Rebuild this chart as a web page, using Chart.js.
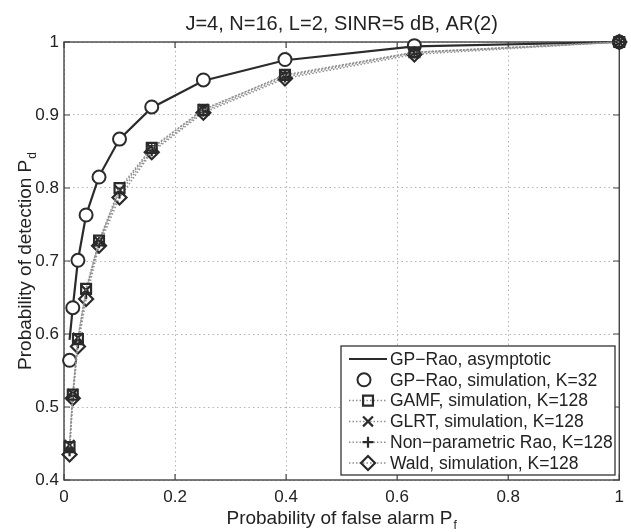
<!DOCTYPE html>
<html>
<head>
<meta charset="utf-8">
<style>
  html, body { margin: 0; padding: 0; background: #fff; }
</style>
<script src="https://cdn.jsdelivr.net/npm/chart.js@4.4.0/dist/chart.umd.min.js"></script>
</head>
<body>
<canvas id="roc" width="631" height="532"></canvas>
<script>
// probability of false alarm grid (log spaced)
const pf = [0.01, 0.0158, 0.0251, 0.0398, 0.0631, 0.1, 0.158, 0.251, 0.398, 0.631, 1];

const pdAsymptotic = [0.592, 0.636, 0.701, 0.763, 0.816, 0.867, 0.910, 0.947, 0.975, 0.994, 1.0];
const pdRaoSim     = [0.564, 0.636, 0.701, 0.763, 0.815, 0.867, 0.911, 0.948, 0.976, 0.995, 1.0];
const pdGamf       = [0.445, 0.517, 0.593, 0.662, 0.728, 0.800, 0.855, 0.907, 0.955, 0.986, 1.0];
const pdGlrt       = [0.448, 0.518, 0.595, 0.660, 0.727, 0.797, 0.854, 0.908, 0.954, 0.986, 1.0];
const pdNpRao      = [0.440, 0.515, 0.588, 0.655, 0.725, 0.793, 0.851, 0.905, 0.952, 0.985, 1.0];
const pdWald       = [0.435, 0.512, 0.583, 0.648, 0.721, 0.787, 0.849, 0.903, 0.950, 0.983, 1.0];

const seriesNames = [
	'GP\u2212Rao, asymptotic',
	'GP\u2212Rao, simulation, K=32',
	'GAMF, simulation, K=128',
	'GLRT, simulation, K=128',
	'Non\u2212parametric Rao, K=128',
	'Wald, simulation, K=128',
];

const xTickValues = [0, 0.2, 0.4, 0.6, 0.8, 1];
const xTickLabels = ['0', '0.2', '0.4', '0.6', '0.8', '1'];
const yTickValues = [0.4, 0.5, 0.6, 0.7, 0.8, 0.9, 1];
const yTickLabels = ['0.4', '0.5', '0.6', '0.7', '0.8', '0.9', '1'];

const titleText = 'J=4, N=16, L=2, SINR=5 dB, AR(2)';
const xTitle = ['Probability of false alarm P', 'f'];
const yTitle = ['Probability of detection P', 'd'];

const FONT = "'Liberation Sans', Arial, Helvetica, sans-serif";
const INK = '#222';

const pts = (ys) => pf.map((x, i) => ({ x: x, y: ys[i] }));

const dottedSeries = (label, ys, style, radius) => ({
	label: label,
	data: pts(ys),
	showLine: true,
	borderColor: '#8f8f8f',
	borderWidth: 1.5,
	borderDash: [1.5, 2],
	pointStyle: style,
	pointRadius: radius,
	pointHoverRadius: radius,
	pointBorderColor: '#2a2a2a',
	pointBackgroundColor: 'rgba(0,0,0,0)',
	pointBorderWidth: 2.2,
	clip: false,
	order: 1,
});

const datasets = [
	{
		label: seriesNames[0],
		data: pts(pdAsymptotic),
		showLine: true,
		borderColor: '#2b2b2b',
		borderWidth: 2.2,
		pointRadius: 0,
		clip: false,
		order: 3,
	},
	{
		label: seriesNames[1],
		data: pts(pdRaoSim),
		showLine: false,
		pointStyle: 'circle',
		pointRadius: 6.5,
		pointHoverRadius: 6.5,
		pointBorderColor: '#2b2b2b',
		pointBackgroundColor: '#fff',
		pointBorderWidth: 2,
		clip: false,
		order: 2,
	},
	dottedSeries(seriesNames[2], pdGamf, 'rect', 7),
	dottedSeries(seriesNames[3], pdGlrt, 'crossRot', 7),
	dottedSeries(seriesNames[4], pdNpRao, 'cross', 5.5),
	dottedSeries(seriesNames[5], pdWald, 'rectRot', 7),
];

// box around the axes with inward tick marks, like the original figure
const framePlugin = {
	id: 'frame',
	beforeDatasetsDraw(chart) {
		const { ctx, chartArea: a, scales } = chart;
		ctx.save();
		ctx.strokeStyle = '#444';
		ctx.lineWidth = 1.4;
		ctx.strokeRect(a.left, a.top, a.right - a.left, a.bottom - a.top);
		ctx.lineWidth = 1.2;
		ctx.beginPath();
		for (const v of xTickValues) {
			const px = scales.x.getPixelForValue(v);
			ctx.moveTo(px, a.bottom); ctx.lineTo(px, a.bottom - 6);
			ctx.moveTo(px, a.top); ctx.lineTo(px, a.top + 6);
		}
		for (const v of yTickValues) {
			const py = scales.y.getPixelForValue(v);
			ctx.moveTo(a.left, py); ctx.lineTo(a.left + 6, py);
			ctx.moveTo(a.right, py); ctx.lineTo(a.right - 6, py);
		}
		ctx.stroke();
		ctx.restore();
	},
};

const subText = (ctx, parts, cx, y, size, subSize) => {
	ctx.font = `${size}px ${FONT}`;
	const w1 = ctx.measureText(parts[0]).width;
	ctx.font = `${subSize}px ${FONT}`;
	const w2 = ctx.measureText(parts[1]).width;
	const x0 = cx - (w1 + w2 + 1) / 2;
	ctx.textAlign = 'left';
	ctx.textBaseline = 'alphabetic';
	ctx.font = `${size}px ${FONT}`;
	ctx.fillText(parts[0], x0, y);
	ctx.font = `${subSize}px ${FONT}`;
	ctx.fillText(parts[1], x0 + w1 + 1, y + 5);
};

const textPlugin = {
	id: 'texts',
	afterDraw(chart) {
		const { ctx, chartArea: a } = chart;
		const cx = (a.left + a.right) / 2;
		const cy = (a.top + a.bottom) / 2;
		ctx.save();
		ctx.fillStyle = INK;
		ctx.font = `20px ${FONT}`;
		ctx.textAlign = 'center';
		ctx.textBaseline = 'alphabetic';
		ctx.fillText(titleText, cx, 30);

		subText(ctx, xTitle, cx, 524, 19, 12);

		ctx.save();
		ctx.translate(30.5, cy);
		ctx.rotate(-Math.PI / 2);
		subText(ctx, yTitle, 0, 0, 19, 12);
		ctx.restore();

		// legend box in the lower right corner
		const box = { left: 341, top: 346, right: 615, bottom: 475 };
		ctx.fillStyle = '#fff';
		ctx.fillRect(box.left, box.top, box.right - box.left, box.bottom - box.top);
		ctx.strokeStyle = '#333';
		ctx.lineWidth = 1.3;
		ctx.strokeRect(box.left, box.top, box.right - box.left, box.bottom - box.top);

		chart.data.datasets.forEach((ds, i) => {
			const y = 359 + i * 20.8;
			if (ds.showLine) {
				ctx.save();
				ctx.strokeStyle = ds.borderColor;
				ctx.lineWidth = ds.borderWidth;
				ctx.setLineDash(ds.borderDash || []);
				ctx.beginPath();
				ctx.moveTo(349, y);
				ctx.lineTo(387, y);
				ctx.stroke();
				ctx.restore();
			}
			if (ds.pointRadius > 0) {
				ctx.save();
				ctx.strokeStyle = ds.pointBorderColor;
				ctx.fillStyle = ds.pointBackgroundColor;
				ctx.lineWidth = ds.pointBorderWidth;
				Chart.helpers.drawPoint(ctx, {
					pointStyle: ds.pointStyle,
					radius: ds.pointRadius,
					borderWidth: ds.pointBorderWidth,
					rotation: 0,
				}, i === 1 ? 364 : 368, y);
				ctx.restore();
			}
			ctx.fillStyle = INK;
			ctx.font = `17.5px ${FONT}`;
			ctx.textAlign = 'left';
			ctx.textBaseline = 'middle';
			ctx.fillText(ds.label, 390, y + 1);
		});
		ctx.restore();
	},
};

const gridStyle = { color: '#b4b4b4', lineWidth: 1, drawTicks: false };

new Chart(document.getElementById('roc'), {
	type: 'scatter',
	data: { datasets: datasets },
	options: {
		responsive: false,
		animation: false,
		events: [],
		layout: { padding: { top: 42, right: 11, left: 0, bottom: 0 } },
		plugins: {
			legend: { display: false },
			title: { display: false },
			tooltip: { enabled: false },
		},
		scales: {
			x: {
				type: 'linear',
				min: 0,
				max: 1,
				grid: gridStyle,
				border: { display: false, dash: [1.5, 3] },
				afterBuildTicks: (s) => { s.ticks = xTickValues.map((v) => ({ value: v })); },
				afterFit: (s) => { s.height = 52; },
				ticks: {
					autoSkip: false,
					maxRotation: 0,
					padding: 7,
					color: INK,
					font: { family: FONT, size: 17 },
					callback: (v, i) => xTickLabels[i],
				},
			},
			y: {
				type: 'linear',
				min: 0.4,
				max: 1,
				grid: gridStyle,
				border: { display: false, dash: [1.5, 3] },
				afterBuildTicks: (s) => { s.ticks = yTickValues.map((v) => ({ value: v })); },
				afterFit: (s) => { s.width = 64; },
				ticks: {
					autoSkip: false,
					padding: 5,
					color: INK,
					font: { family: FONT, size: 17 },
					callback: (v, i) => yTickLabels[i],
				},
			},
		},
	},
	plugins: [framePlugin, textPlugin],
});
</script>
</body>
</html>
